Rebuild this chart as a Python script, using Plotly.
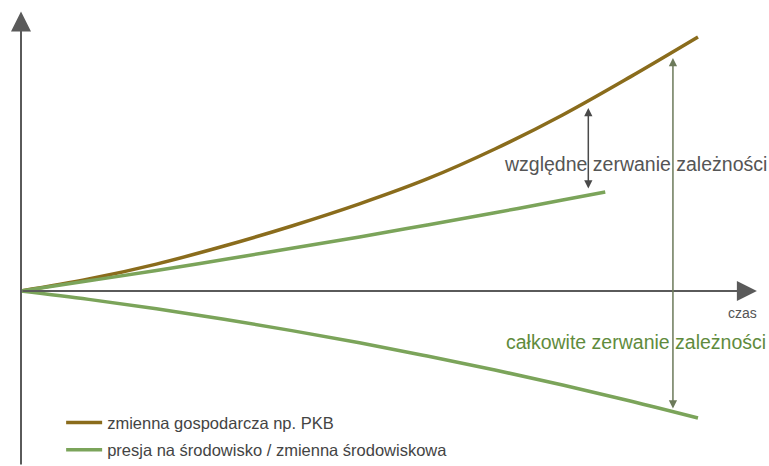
import plotly.graph_objects as go

# ---- data (time units, value units) ----
t_econ = [0, 1, 2, 3, 4, 5, 6, 7, 8, 9, 10]
econ = [0, 0.47, 1.06, 1.77, 2.56, 3.43, 4.41, 5.59, 6.93, 8.43, 10.0]

t_rel = [0, 1, 2, 3, 4, 5, 6, 7, 8, 8.63]
press_rel = [0, 0.40, 0.81, 1.24, 1.68, 2.13, 2.60, 3.08, 3.58, 3.90]

t_abs = [0, 1, 2, 3, 4, 5, 6, 7, 8, 9, 10]
press_abs = [0, -0.33, -0.70, -1.11, -1.56, -2.04, -2.56, -3.11, -3.70, -4.33, -5.0]

# decoupling arrows: (x, y_top, y_bottom)
rel_arrow = (8.38, 7.20, 3.98)
abs_arrow = (9.63, 9.17, -4.69)

labels = {
    "econ": "zmienna gospodarcza np. PKB",
    "press": "presja na środowisko / zmienna środowiskowa",
    "rel": "względne zerwanie zależności",
    "abs": "całkowite zerwanie zależności",
    "time": "czas",
}

X_RANGE = [-0.3102, 11.049]
Y_RANGE = [-6.89, 11.457]

BROWN = "#8a6c1c"
GREEN = "#7ba45a"
TEXTGREEN = "#5f8b3d"
AXIS = "#5a5a5a"
FONT = "Liberation Sans, Arial, sans-serif"

fig = go.Figure()
fig.add_trace(go.Scatter(x=t_econ, y=econ, mode="lines", name=labels["econ"], legendgroup="a",
                         line=dict(color=BROWN, width=3.5, shape="spline"), hoverinfo="skip"))
fig.add_trace(go.Scatter(x=t_rel, y=press_rel, mode="lines", name=labels["press"], legendgroup="b",
                         line=dict(color=GREEN, width=3.5, shape="spline"), hoverinfo="skip"))
fig.add_trace(go.Scatter(x=t_abs, y=press_abs, mode="lines", name=labels["press"], legendgroup="b",
                         showlegend=False,
                         line=dict(color=GREEN, width=3.5, shape="spline"), hoverinfo="skip"))

ann = []
# axes with arrowheads
ann.append(dict(x=0, y=11.0, ax=0, ay=Y_RANGE[0], xref="x", yref="y", axref="x", ayref="y",
                text="", showarrow=True, arrowhead=2, arrowsize=2, arrowwidth=2,
                arrowcolor=AXIS, standoff=0))
ann.append(dict(x=10.87, y=0, ax=0, ay=0, xref="x", yref="y", axref="x", ayref="y",
                text="", showarrow=True, arrowhead=2, arrowsize=2, arrowwidth=2,
                arrowcolor=AXIS, standoff=0))
# decoupling double arrows
x, yt, yb = rel_arrow
ann.append(dict(x=x, y=yt, ax=x, ay=yb, xref="x", yref="y", axref="x", ayref="y",
                text="", showarrow=True, arrowhead=2, startarrowhead=2, arrowside="end+start",
                arrowsize=1.1, startarrowsize=1.1, arrowwidth=1.5, arrowcolor="#4a4a4a",
                standoff=0, startstandoff=0))
x, yt, yb = abs_arrow
ann.append(dict(x=x, y=yt, ax=x, ay=yb, xref="x", yref="y", axref="x", ayref="y",
                text="", showarrow=True, arrowhead=2, startarrowhead=2, arrowside="end+start",
                arrowsize=1.1, startarrowsize=1.1, arrowwidth=1.5, arrowcolor="#6c7a5a",
                standoff=0, startstandoff=0))
# texts
ann.append(dict(x=9.077, y=5.0, xref="x", yref="y", text=labels["rel"], showarrow=False,
                font=dict(family=FONT, size=19.5, color="#555555")))
ann.append(dict(x=9.09, y=-2.0, xref="x", yref="y", text=labels["abs"], showarrow=False,
                font=dict(family=FONT, size=19.5, color=TEXTGREEN)))
ann.append(dict(x=10.66, y=-0.87, xref="x", yref="y", text=labels["time"], showarrow=False,
                font=dict(family=FONT, size=14, color="#555555")))

fig.update_layout(
    width=769, height=466,
    margin=dict(l=0, r=0, t=0, b=0, autoexpand=False),
    paper_bgcolor="white", plot_bgcolor="white",
    xaxis=dict(range=X_RANGE, visible=False, fixedrange=True),
    yaxis=dict(range=Y_RANGE, visible=False, fixedrange=True),
    annotations=ann,
    showlegend=True,
    legend=dict(x=0.0795, y=-0.0025, xanchor="left", yanchor="bottom", traceorder="grouped",
                itemwidth=36,
                bgcolor="rgba(0,0,0,0)", font=dict(family=FONT, size=16.5, color="#444444"),
                tracegroupgap=3),
)

fig.write_html("out.html", config={"displayModeBar": False},
               post_script="document.body.style.margin='0';document.body.style.overflow='hidden';")
